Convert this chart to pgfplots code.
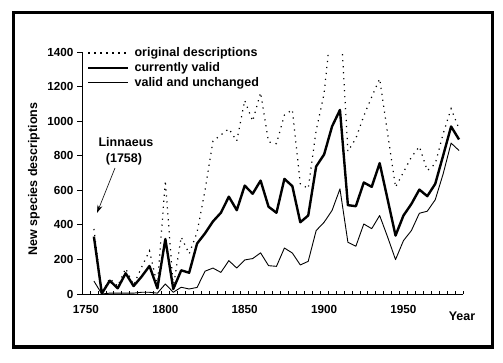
\documentclass[border=0pt]{standalone}
\usepackage{fontspec}
\setmainfont{Liberation Sans}
\usepackage{pgfplots}
\pgfplotsset{compat=1.18}
\usetikzlibrary{arrows.meta}
\newcommand{\cf}{\bfseries\fontsize{12.5}{14}\selectfont}
\newcommand{\tf}{\bfseries\fontsize{11.7}{13}\selectfont}
\pgfplotstableread{
year orig valid unch
1755 376 332 75
1760 5 3 0
1765 90 77 5
1770 45 33 5
1775 148 120 5
1780 52 46 5
1785 154 100 10
1790 250 162 10
1795 48 33 5
1800 656 318 58
1805 40 29 10
1810 330 137 39
1815 232 123 29
1820 357 292 38
1825 600 351 132
1830 885 420 150
1835 920 470 125
1840 956 563 193
1845 885 485 150
1850 1120 627 197
1855 1000 580 205
1860 1165 656 238
1865 880 505 164
1870 870 470 160
1875 1035 666 266
1880 1066 624 237
1885 638 415 168
1890 610 454 189
1895 946 738 367
1900 1159 807 415
1905 1600 969 483
1910 1650 1065 608
1915 825 514 299
1920 900 508 276
1925 1030 645 405
1930 1140 620 378
1935 1245 757 454
1940 930 548 330
1945 618 338 199
1950 705 454 309
1955 792 521 367
1960 853 604 467
1965 714 566 479
1970 753 637 545
1975 927 801 695
1980 1072 969 873
1985 956 894 830
}\datatable
\begin{document}
\begin{tikzpicture}[x=1pt,y=1pt]
\begin{axis}[
  at={(82pt,68pt)}, anchor=south west,
  scale only axis, width=381pt, height=242pt,
  xmin=1747.5, xmax=1987.5, ymin=0, ymax=1400,
  axis lines=left, axis line style={-, line width=0.8pt},
  xtick={1750,1800,1850,1900,1950},
  minor xtick={1747.5,1752.5,...,1987.5},
  ytick={0,200,...,1400},
  tick align=inside,
  major tick length=5pt, minor tick length=3pt,
  every major x tick/.style={draw=none},
  every minor x tick/.style={black, line width=0.6pt},
  ytick style={xshift=-5pt, black, line width=0.8pt},
  /pgf/number format/1000 sep={},
  /pgf/number format/assume math mode=true,
  tick label style={font=\tf},
  xticklabel style={yshift=-8pt},
  yticklabel style={xshift=-5pt},
  legend style={at={(0,1)}, anchor=north west, xshift=5pt, yshift=6pt,
    draw=none, fill=none, inner sep=0pt, row sep=1.3pt, font=\cf,
    nodes={inner sep=1.5pt},
    /tikz/every odd column/.append style={column sep=3.5pt}},
  legend cell align=left,
  legend image code/.code={\draw[#1] (0pt,0pt) -- (40pt,0pt);},
]
\addplot[black, line width=1.2pt, dash pattern=on 1.2pt off 4.8pt] table[x=year,y=orig] {\datatable};
\addlegendentry{original descriptions}
\addplot[black, line width=2.4pt, line join=round] table[x=year,y=valid] {\datatable};
\addlegendentry{currently valid}
\addplot[black, line width=0.9pt, line join=round] table[x=year,y=unch] {\datatable};
\addlegendentry{valid and unchanged}
\end{axis}
\node[rotate=90, font=\cf] at (34,183) {New species descriptions};
\node[font=\cf] at (462,46) {Year};
\node[font=\cf] at (126,220) {Linnaeus};
\node[font=\cf] at (124,203) {(1758)};
\draw[-{Stealth[length=8pt,width=5pt]}, line width=0.6pt] (115,194) -- (97,149);
\draw[line width=3.5pt] (13.7,349.5) rectangle (492.5,15);
\pgfresetboundingbox
\path (0,0) rectangle (503,362);
\end{tikzpicture}
\end{document}
